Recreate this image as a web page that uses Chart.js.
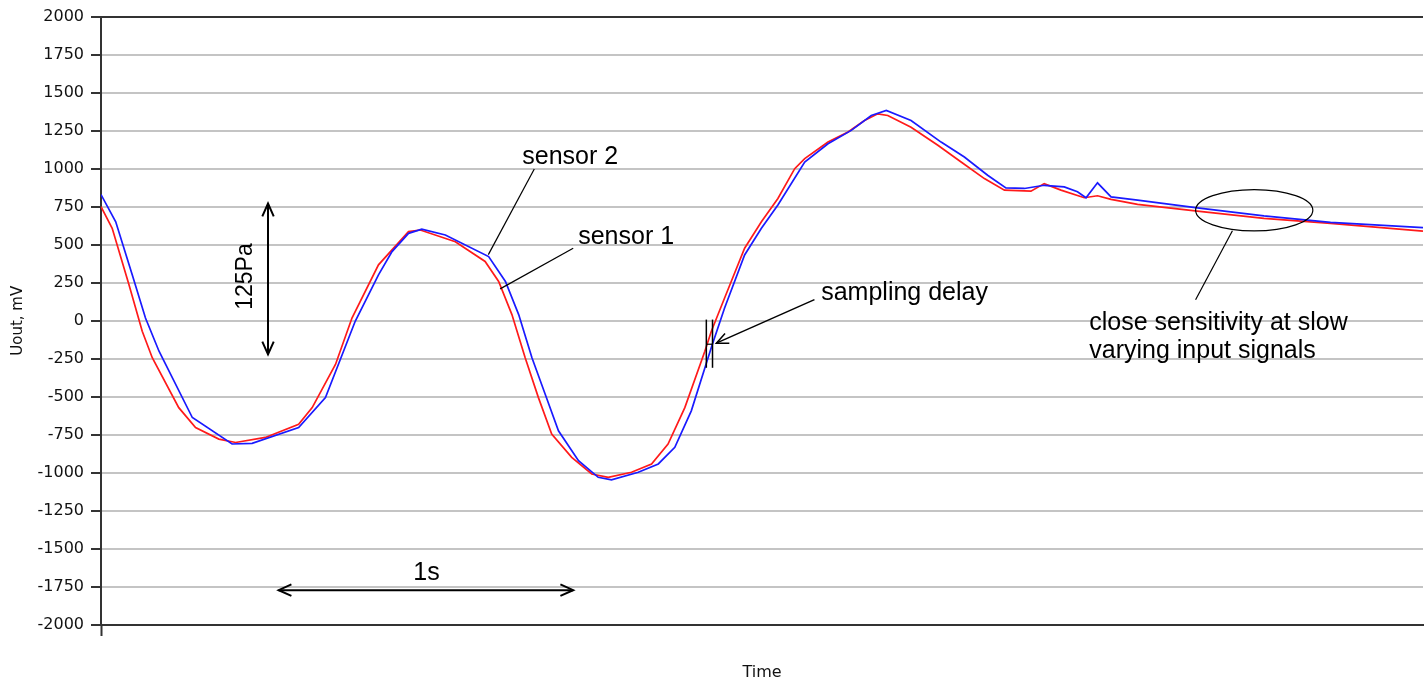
<!DOCTYPE html>
<html>
<head>
<meta charset="utf-8">
<script src="https://cdn.jsdelivr.net/npm/chart.js@4.4.1/dist/chart.umd.min.js"></script>
<style>
  html, body { margin: 0; padding: 0; background: #fff; }
  #wrap { width: 1426px; height: 684px; }
</style>
</head>
<body>
<div id="wrap"><canvas id="c" width="1426" height="684"></canvas></div>
<script>
// ---- data (time in ms, output in mV) ----
const sensor1Time = [0,38,95,140,174,264,321,400,457,558,671,717,796,852,942,1044,1084,1203,1304,1350,1395,1440,1485,1530,1598,1666,1722,1801,1869,1925,1982,2050,2072,2117,2185,2242,2298,2355,2389,2468,2536,2592,2637,2671,2750,2841,2920,2999,3067,3157,3202,3259,3338,3383,3429,3519,3722,3948,4174,4488];
const sensor1Values = [750,608,237,-69,-243,-571,-702,-778,-800,-767,-680,-571,-287,18,368,586,597,520,390,259,41,-243,-505,-745,-898,-1007,-1029,-996,-941,-810,-571,-200,-69,150,477,651,804,1000,1066,1175,1241,1317,1361,1350,1273,1154,1044,935,859,852,902,859,809,822,798,765,721,673,640,590];
const sensor2Time = [0,50,106,151,197,310,445,513,671,762,863,942,988,1044,1089,1169,1316,1373,1418,1463,1508,1553,1621,1688,1733,1824,1892,1948,2004,2072,2083,2117,2185,2242,2298,2389,2468,2547,2615,2666,2750,2852,2931,3010,3072,3135,3202,3270,3315,3344,3383,3429,3519,3722,3948,4174,4488];
const sensor2Values = [830,651,302,18,-200,-636,-810,-806,-702,-505,-3,302,455,575,603,564,422,259,41,-243,-483,-723,-920,-1029,-1046,-996,-941,-832,-592,-175,-112,84,433,608,761,1044,1164,1252,1350,1383,1317,1175,1077,957,874,870,891,880,848,809,907,815,793,743,690,647,612];

const yMin = -2000, yMax = 2000, yStep = 250;
const xMin = 0, xMax = 4488;
const yTitle = 'Uout, mV';
const xTitle = 'Time';

// annotations (in data coordinates: ms, mV)
const textLabels = [
  { text: 'sensor 2', t: 1430, v: 1031 },
  { text: 'sensor 1', t: 1620, v: 503 },
  { text: 'sampling delay', t: 2445, v: 139 },
  { text: '1s', t: 1105, v: -1660, center: true, middle: true },
  { text: 'close sensitivity at slow', t: 3355, v: -58 },
  { text: 'varying input signals', t: 3355, v: -247 }
];
const leaderLines = [
  [1471, 998, 1315, 435],   // sensor 2
  [1603, 477, 1355, 210],   // sensor 1
  [3841, 592, 3716, 139]    // ellipse note
];

const sensor1 = sensor1Time.map((t, i) => ({ x: t, y: sensor1Values[i] }));
const sensor2 = sensor2Time.map((t, i) => ({ x: t, y: sensor2Values[i] }));

const white = {
  id: 'white',
  beforeDraw(chart) {
    const c = chart.ctx;
    c.save(); c.fillStyle = '#fff'; c.fillRect(0, 0, chart.width, chart.height); c.restore();
  }
};

const annot = {
  id: 'annot',
  afterDraw(chart) {
    const { ctx, scales: { x, y } } = chart;
    const X = t => x.getPixelForValue(t), Y = v => y.getPixelForValue(v);
    ctx.save();
    ctx.strokeStyle = '#000';
    ctx.fillStyle = '#000';
    const line = (t1, v1, t2, v2, w) => {
      ctx.lineWidth = w; ctx.beginPath();
      ctx.moveTo(X(t1), Y(v1)); ctx.lineTo(X(t2), Y(v2)); ctx.stroke();
    };
    const head = (tt, tv, ft, fv, len, ang, w) => {
      const x0 = X(tt), y0 = Y(tv);
      const a = Math.atan2(Y(fv) - y0, X(ft) - x0);
      ctx.lineWidth = w;
      ctx.beginPath();
      ctx.moveTo(x0 + len * Math.cos(a - ang), y0 + len * Math.sin(a - ang));
      ctx.lineTo(x0, y0);
      ctx.lineTo(x0 + len * Math.cos(a + ang), y0 + len * Math.sin(a + ang));
      ctx.stroke();
    };
    // leader lines
    leaderLines.forEach(l => line(l[0], l[1], l[2], l[3], 1.2));
    // 125Pa double arrow
    line(567, 771, 567, -221, 2);
    head(567, 771, 567, -221, 14, 0.42, 2);
    head(567, -221, 567, 771, 14, 0.42, 2);
    // 1s double arrow
    line(603, -1771, 1603, -1771, 2);
    head(603, -1771, 1603, -1771, 14, 0.42, 2);
    head(1603, -1771, 603, -1771, 14, 0.42, 2);
    // sampling delay arrow
    line(2422, 139, 2089, -147, 1.5);
    head(2089, -147, 2422, 139, 13, 0.42, 1.5);
    // sampling delay bars
    line(2055, 8, 2055, -309, 1.5);
    line(2076, 8, 2076, -309, 1.5);
    line(2055, -154, 2076, -154, 1.2);
    // ellipse
    ctx.lineWidth = 1.2;
    ctx.beginPath();
    const cx = X(3915), cy = Y(727);
    const rx = Math.abs(X(3915 + 199) - cx), ry = Math.abs(Y(727 + 136) - cy);
    ctx.ellipse(cx, cy, rx, ry, 0, 0, Math.PI * 2);
    ctx.stroke();
    // texts
    ctx.font = '25px "Liberation Sans", Arial, sans-serif';
    textLabels.forEach(l => {
      ctx.textAlign = l.center ? 'center' : 'left';
      ctx.textBaseline = l.middle ? 'middle' : 'alphabetic';
      ctx.fillText(l.text, X(l.t), Y(l.v));
    });
    // rotated 125Pa
    ctx.save();
    ctx.translate(X(491), Y(291));
    ctx.rotate(-Math.PI / 2);
    ctx.font = '23px "Liberation Sans", Arial, sans-serif';
    ctx.textAlign = 'center';
    ctx.textBaseline = 'middle';
    ctx.fillText('125Pa', 0, 0);
    ctx.restore();
    ctx.restore();
  }
};

new Chart(document.getElementById('c'), {
  type: 'line',
  data: {
    datasets: [
      { label: 'sensor 1', data: sensor1, borderColor: '#ff1a1a', borderWidth: 1.7, pointRadius: 0, tension: 0, order: 1 },
      { label: 'sensor 2', data: sensor2, borderColor: '#1a1aff', borderWidth: 1.7, pointRadius: 0, tension: 0, order: 0 }
    ]
  },
  options: {
    responsive: false,
    animation: false,
    devicePixelRatio: 1,
    layout: { padding: { top: 11, right: 0, left: 0, bottom: 1 } },
    plugins: { legend: { display: false }, tooltip: { enabled: false } },
    scales: {
      x: {
        type: 'linear',
        min: xMin, max: xMax,
        border: { display: true, color: '#333', width: 2 },
        grid: {
          drawOnChartArea: false,
          drawTicks: true,
          tickLength: 11,
          tickWidth: 2,
          tickColor: c => (c.tick && c.tick.value === 0) ? '#333' : 'rgba(0,0,0,0)'
        },
        ticks: { callback: () => '', maxRotation: 0 },
        title: { display: true, text: xTitle, color: '#111', font: { family: 'DejaVu Sans', size: 16 }, padding: { top: 0, bottom: 1 } },
        afterFit: s => { s.height = 58; }
      },
      y: {
        min: yMin, max: yMax,
        border: { display: true, color: '#333', width: 2 },
        grid: {
          color: c => (c.tick && c.tick.value === yMax) ? '#333' : '#c4c4c4',
          lineWidth: 2,
          tickColor: '#333',
          tickLength: 10,
          tickWidth: 2
        },
        ticks: { stepSize: yStep, autoSkip: false, color: '#111', padding: 7, font: { family: 'DejaVu Sans', size: 16 }, callback: v => String(v) },
        title: { display: true, text: yTitle, color: '#111', font: { family: 'DejaVu Sans', size: 15 }, padding: { top: 9, bottom: 0 } },
        afterFit: s => { s.width = 101; }
      }
    }
  },
  plugins: [white, annot]
});
</script>
</body>
</html>
